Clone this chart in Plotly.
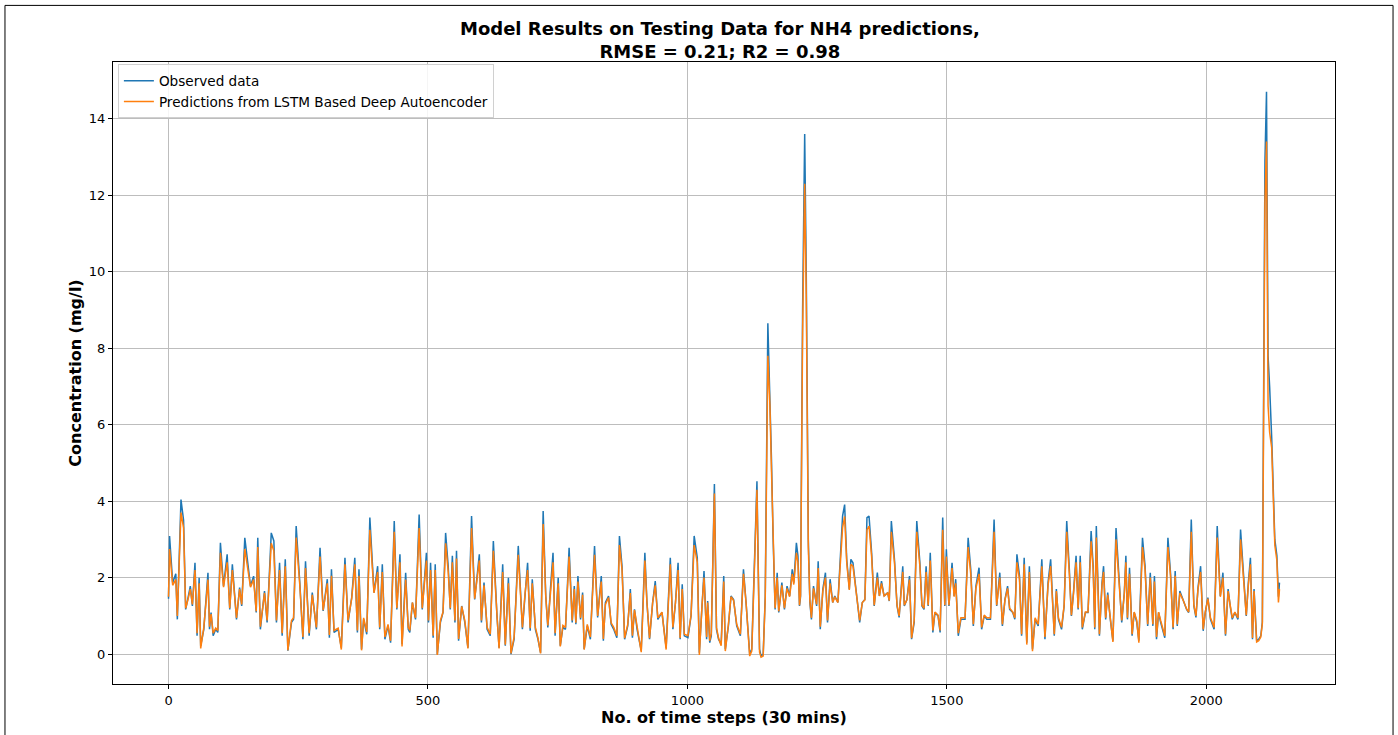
import plotly.graph_objects as go

# ---- data ----
time_steps = [
    0, 2, 8, 14, 17, 24, 29, 33, 37, 42, 46, 51, 55, 59, 62, 68, 76, 79, 82, 86, 91, 95, 100, 106, 113, 118, 123, 131, 137, 141, 147, 153, 158, 164, 169, 172, 177, 185, 190, 198,
    203, 208, 214, 219, 225, 230, 237, 241, 246, 253, 259, 264, 271, 277, 285, 292, 298, 306, 310, 314, 319, 327, 333, 340, 346, 353, 359, 364, 367, 372, 376, 382, 388, 396, 403, 407, 412, 417,
    423, 428, 435, 440, 446, 450, 457, 462, 465, 470, 476, 483, 489, 497, 501, 505, 510, 514, 518, 524, 529, 534, 539, 543, 547, 552, 555, 559, 565, 571, 577, 584, 590, 599, 603, 608, 614, 620, 626,
    633, 637, 644, 649, 655, 660, 666, 674, 682, 687, 692, 697, 701, 707, 712, 717, 722, 727, 731, 736, 741, 745, 751, 755, 760, 765, 772, 778, 782, 785, 789, 794, 798, 801, 807, 813, 821, 827, 834,
    838, 842, 848, 853, 858, 864, 869, 874, 879, 885, 890, 894, 898, 903, 911, 918, 922, 927, 933, 938, 943, 951, 959, 967, 972, 977, 982, 986, 990, 994, 1001, 1007, 1013, 1019, 1023, 1028, 1032, 1037, 1039, 1043, 1046, 1052,
    1056, 1060, 1065, 1070, 1073, 1079, 1084, 1089, 1095, 1102, 1108, 1113, 1120, 1124, 1131, 1134, 1139, 1142, 1146, 1150, 1155, 1159, 1162, 1165, 1169, 1173, 1176, 1182, 1187, 1192, 1197, 1202, 1205, 1210, 1213, 1216, 1218, 1222, 1226, 1229, 1233, 1236, 1239, 1243, 1249, 1252, 1256, 1261, 1266,
    1270, 1275, 1280, 1284, 1290, 1294, 1299, 1303, 1307, 1312, 1315, 1319, 1323, 1328, 1332, 1337, 1342, 1346, 1350, 1355, 1360, 1366, 1370, 1374, 1379, 1386, 1389, 1393, 1399, 1404, 1408, 1415, 1418, 1423, 1428, 1432, 1437, 1442, 1448, 1452, 1456, 1460, 1464, 1468, 1473, 1477,
    1483, 1487, 1492, 1496, 1499, 1504, 1510, 1514, 1517, 1522, 1527, 1535, 1541, 1546, 1551, 1556, 1562, 1567, 1572, 1577, 1584, 1591, 1596, 1602, 1607, 1612, 1617, 1621, 1627, 1631, 1635, 1640, 1644, 1649, 1654, 1659, 1665, 1670, 1676, 1683, 1689,
    1695, 1700, 1707, 1711, 1715, 1721, 1726, 1731, 1736, 1740, 1744, 1749, 1753, 1757, 1761, 1767, 1772, 1778, 1782, 1785, 1788, 1794, 1799, 1802, 1806, 1810, 1815, 1820, 1826, 1832, 1837, 1842, 1845, 1848, 1852, 1857, 1861, 1866, 1870, 1877, 1882, 1887, 1892, 1897, 1900, 1904,
    1908, 1912, 1920, 1926, 1931, 1936, 1940, 1944, 1949, 1955, 1962, 1966, 1971, 1976, 1980, 1984, 1989, 1994, 1998, 2003, 2008, 2015, 2021, 2027, 2032, 2037, 2042, 2046, 2050, 2055, 2061, 2066, 2073, 2077, 2081, 2085, 2089, 2092, 2097, 2101, 2105, 2108, 2110, 2113, 2116, 2119, 2122, 2126, 2132, 2136, 2139, 2141,
]

observed = [
    1.45, 3.09, 1.87, 2.10, 0.91, 4.04, 3.50, 1.17, 1.43, 1.78, 1.26, 2.39, 0.48, 2.00, 0.22, 0.65, 2.13, 0.65, 1.09, 0.48, 0.65, 0.57, 2.91, 1.78, 2.61, 1.17, 2.35, 0.91, 1.74, 1.26, 3.04, 2.39, 1.78, 2.04, 1.09, 3.04, 0.65, 1.65, 0.83, 3.17,
    2.96, 0.83, 2.39, 0.48, 2.48, 0.09, 0.83, 0.91, 3.35, 1.87, 0.39, 2.43, 0.48, 1.61, 0.65, 2.78, 1.13, 1.96, 0.43, 2.22, 0.57, 0.65, 0.17, 2.52, 0.83, 1.48, 2.52, 0.57, 2.22, 0.13, 0.91, 0.52, 3.57, 1.61, 2.30, 0.65, 2.35, 0.39,
    0.74, 0.30, 3.48, 1.17, 2.61, 0.26, 2.13, 0.65, 0.57, 1.35, 0.91, 3.65, 1.17, 2.65, 0.83, 2.39, 0.43, 2.35, 0.00, 0.83, 1.09, 3.17, 2.30, 1.17, 2.57, 0.83, 2.70, 0.35, 1.26, 0.83, 0.17, 3.61, 1.43, 2.61, 0.83, 1.87, 0.65, 0.48, 2.96,
    1.00, 0.17, 2.35, 0.22, 2.00, 0.00, 0.39, 2.83, 0.65, 1.61, 2.39, 0.61, 1.96, 0.65, 0.39, 0.04, 3.74, 1.52, 0.70, 1.70, 2.65, 0.48, 2.00, 0.22, 0.70, 0.65, 2.78, 0.83, 1.78, 0.78, 2.04, 0.91, 1.61, 0.13, 0.74, 0.39, 2.83, 0.96, 2.04,
    0.35, 1.35, 1.52, 0.78, 0.65, 0.43, 3.09, 2.30, 0.39, 0.74, 1.70, 0.43, 1.17, 0.65, 0.09, 2.65, 1.35, 0.39, 1.35, 1.91, 0.91, 1.09, 0.17, 2.52, 0.65, 1.35, 2.39, 0.39, 1.83, 0.48, 0.43, 1.00, 3.09, 2.52, 0.04, 1.26, 2.17, 0.39, 1.39, 0.30, 0.48, 4.45,
    0.65, 0.39, 0.26, 2.04, 0.13, 0.74, 1.52, 1.43, 0.74, 0.48, 2.22, 1.35, 0.00, 0.13, 3.35, 4.52, 0.13, -0.05, 0.00, 1.52, 8.65, 6.74, 5.09, 3.09, 1.17, 2.13, 1.09, 1.87, 1.17, 1.78, 1.52, 2.22, 1.87, 2.91, 2.57, 1.26, 1.50, 9.00, 13.60, 10.00, 3.00, 1.35, 0.91, 1.78, 1.26, 2.43, 0.65, 1.70, 2.13,
    0.83, 1.96, 1.35, 1.52, 1.35, 2.30, 3.61, 3.91, 2.48, 1.70, 2.48, 2.39, 1.87, 1.26, 0.83, 1.35, 1.43, 3.57, 3.61, 2.65, 1.26, 2.13, 1.52, 1.91, 1.52, 1.61, 1.39, 3.48, 2.48, 1.26, 0.96, 2.30, 1.26, 1.43, 2.04, 0.39, 0.83, 3.48, 2.39, 1.26, 1.17, 2.30, 1.26, 2.65, 0.57, 1.09,
    1.00, 0.57, 3.57, 1.26, 2.74, 1.26, 2.39, 1.52, 1.96, 0.48, 0.91, 0.91, 3.04, 2.22, 0.74, 1.78, 2.26, 0.65, 1.00, 0.91, 0.91, 3.52, 1.26, 2.13, 0.74, 1.43, 1.78, 1.17, 1.09, 0.91, 2.61, 2.04, 0.48, 2.52, 0.30, 2.30, 0.13, 0.91, 0.74, 2.48, 0.39,
    1.87, 2.48, 0.48, 1.70, 0.91, 0.65, 1.26, 3.48, 2.22, 1.00, 1.61, 2.57, 1.17, 2.57, 0.65, 1.09, 1.09, 3.22, 2.30, 0.65, 3.35, 0.48, 1.87, 2.30, 0.91, 1.61, 0.91, 0.35, 3.30, 2.04, 0.83, 1.61, 2.57, 0.91, 2.26, 0.48, 1.09, 0.83, 0.35, 3.04, 2.30, 0.74, 2.13, 0.74, 2.04, 0.39,
    1.09, 0.83, 0.43, 3.04, 2.13, 0.65, 2.17, 0.74, 1.65, 1.43, 1.17, 1.09, 3.52, 1.26, 0.96, 1.74, 2.30, 0.61, 1.09, 1.48, 0.91, 0.65, 3.35, 1.52, 2.13, 0.48, 1.70, 1.26, 0.91, 1.09, 0.91, 3.26, 1.61, 1.00, 1.87, 2.52, 0.39, 1.70, 0.35, 0.39, 0.48, 0.84, 5.76, 12.90, 14.70, 7.80, 7.00, 5.66, 3.00, 2.58, 1.50, 1.87,
]

predicted = [
    1.50, 2.75, 1.80, 1.95, 1.00, 3.70, 3.30, 1.20, 1.40, 1.70, 1.30, 2.20, 0.55, 1.85, 0.15, 0.70, 1.95, 0.72, 1.05, 0.55, 0.68, 0.62, 2.65, 1.75, 2.40, 1.20, 2.20, 0.95, 1.70, 1.30, 2.75, 2.25, 1.75, 1.95, 1.12, 2.80, 0.72, 1.60, 0.88, 2.90,
    2.70, 0.88, 2.20, 0.55, 2.30, 0.10, 0.88, 0.95, 3.05, 1.80, 0.45, 2.25, 0.55, 1.55, 0.70, 2.55, 1.15, 1.85, 0.50, 2.05, 0.62, 0.68, 0.12, 2.35, 0.88, 1.45, 2.35, 0.62, 2.05, 0.10, 0.95, 0.58, 3.25, 1.60, 2.15, 0.70, 2.15, 0.45,
    0.78, 0.35, 3.20, 1.20, 2.40, 0.20, 1.95, 0.70, 0.62, 1.35, 0.95, 3.30, 1.20, 2.45, 0.88, 2.20, 0.48, 2.20, -0.02, 0.88, 1.10, 2.90, 2.15, 1.20, 2.40, 0.88, 2.50, 0.40, 1.25, 0.88, 0.15, 3.30, 1.45, 2.45, 0.88, 1.80, 0.70, 0.52, 2.70,
    1.02, 0.15, 2.15, 0.25, 1.85, 0.02, 0.45, 2.60, 0.70, 1.58, 2.20, 0.68, 1.85, 0.70, 0.42, 0.02, 3.40, 1.50, 0.75, 1.65, 2.40, 0.55, 1.85, 0.20, 0.75, 0.70, 2.55, 0.88, 1.70, 0.82, 1.90, 0.95, 1.55, 0.12, 0.78, 0.45, 2.60, 1.00, 1.90,
    0.40, 1.30, 1.48, 0.82, 0.70, 0.48, 2.85, 2.20, 0.42, 0.78, 1.60, 0.48, 1.15, 0.70, 0.05, 2.45, 1.35, 0.42, 1.35, 1.80, 0.95, 1.10, 0.12, 2.35, 0.70, 1.35, 2.20, 0.42, 1.70, 0.52, 0.48, 1.02, 2.85, 2.40, -0.02, 1.25, 2.00, 0.45, 1.35, 0.35, 0.55, 4.20,
    0.70, 0.42, 0.22, 1.90, 0.08, 0.78, 1.50, 1.40, 0.78, 0.52, 2.10, 1.35, -0.05, 0.08, 3.20, 4.30, 0.05, -0.08, -0.05, 1.45, 7.80, 6.50, 4.80, 2.95, 1.20, 2.00, 1.12, 1.80, 1.20, 1.72, 1.50, 2.10, 1.82, 2.65, 2.40, 1.28, 1.55, 8.40, 12.30, 9.40, 2.80, 1.40, 0.95, 1.72, 1.30, 2.25, 0.72, 1.65, 2.00,
    0.88, 1.85, 1.35, 1.50, 1.35, 2.20, 3.30, 3.60, 2.40, 1.68, 2.35, 2.30, 1.82, 1.28, 0.88, 1.35, 1.42, 3.25, 3.35, 2.55, 1.28, 2.00, 1.52, 1.85, 1.52, 1.60, 1.40, 3.20, 2.40, 1.28, 1.00, 2.15, 1.28, 1.42, 1.95, 0.42, 0.88, 3.20, 2.30, 1.28, 1.20, 2.15, 1.28, 2.45, 0.62, 1.10,
    1.02, 0.62, 3.25, 1.28, 2.55, 1.28, 2.25, 1.50, 1.85, 0.55, 0.95, 0.95, 2.80, 2.10, 0.78, 1.72, 2.10, 0.70, 1.02, 0.95, 0.95, 3.20, 1.28, 2.00, 0.78, 1.42, 1.72, 1.20, 1.10, 0.95, 2.40, 1.95, 0.52, 2.35, 0.25, 2.15, 0.08, 0.95, 0.78, 2.30, 0.45,
    1.80, 2.30, 0.52, 1.65, 0.95, 0.70, 1.28, 3.20, 2.10, 1.02, 1.58, 2.40, 1.20, 2.40, 0.70, 1.10, 1.10, 2.95, 2.20, 0.70, 3.05, 0.52, 1.80, 2.15, 0.95, 1.55, 0.95, 0.32, 3.00, 1.95, 0.88, 1.58, 2.40, 0.95, 2.10, 0.52, 1.10, 0.88, 0.30, 2.80, 2.20, 0.78, 2.00, 0.78, 1.90, 0.45,
    1.10, 0.88, 0.48, 2.80, 2.05, 0.70, 2.05, 0.78, 1.60, 1.42, 1.18, 1.10, 3.20, 1.28, 1.00, 1.70, 2.15, 0.65, 1.10, 1.45, 0.95, 0.70, 3.05, 1.50, 2.00, 0.52, 1.65, 1.28, 0.95, 1.10, 0.95, 3.00, 1.58, 1.02, 1.80, 2.35, 0.42, 1.65, 0.32, 0.35, 0.45, 0.80, 5.20, 11.80, 13.40, 6.50, 5.80, 5.40, 2.85, 2.45, 1.35, 1.70,
]

x_ticks = [0, 500, 1000, 1500, 2000]
y_ticks = [0, 2, 4, 6, 8, 10, 12, 14]

series_names = ["Observed data", "Predictions from LSTM Based Deep Autoencoder"]
series_colors = ["#1f77b4", "#ff7f0e"]

title_text = "<b>Model Results on Testing Data for NH4 predictions,<br>RMSE = 0.21; R2 = 0.98</b>"
x_title = "<b>No. of time steps (30 mins)</b>"
y_title = "<b>Concentration (mg/l)</b>"

FONT = "DejaVu Sans"

fig = go.Figure()
for name, ys, col in zip(series_names, [observed, predicted], series_colors):
    fig.add_trace(go.Scatter(x=time_steps, y=ys, mode="lines", name=name,
                             line=dict(color=col, width=1.5)))

axis_common = dict(
    showline=True, linecolor="black", linewidth=1, mirror=True,
    ticks="outside", ticklen=4, tickcolor="black", tickwidth=1,
    showgrid=True, gridcolor="#bdbdbd", gridwidth=1, zeroline=False,
    tickfont=dict(family=FONT, size=13, color="black"),
)

fig.update_layout(
    width=1398, height=735,
    margin=dict(l=113, r=63, t=62, b=43),
    paper_bgcolor="white", plot_bgcolor="white",
    font=dict(family=FONT, color="black"),
    showlegend=True,
    legend=dict(x=0.004, y=0.996, xanchor="left", yanchor="top",
                bgcolor="rgba(255,255,255,0.85)", bordercolor="#d0d0d0", borderwidth=1,
                font=dict(family=FONT, size=13.6, color="black"),
                tracegroupgap=0, itemwidth=30),
    xaxis=dict(range=[-107, 2248], tickvals=x_ticks,
               title=dict(text=x_title, font=dict(family=FONT, size=16), standoff=4),
               **axis_common),
    yaxis=dict(range=[-0.78, 15.48], tickvals=y_ticks,
               title=dict(text=y_title, font=dict(family=FONT, size=16), standoff=3),
               **axis_common),
    annotations=[dict(text=title_text, xref="paper", yref="paper", x=0.497, y=1.035,
                      xanchor="center", yanchor="middle", showarrow=False,
                      font=dict(family=FONT, size=18, color="black"))],
    shapes=[dict(type="rect", xref="paper", yref="paper",
                 x0=-0.0884, x1=1.0475, y0=-0.2, y1=1.091,
                 line=dict(color="black", width=1), layer="above")],
)

fig.write_html("out.html", config={"displayModeBar": False},
               post_script="document.body.style.margin='0px';")
